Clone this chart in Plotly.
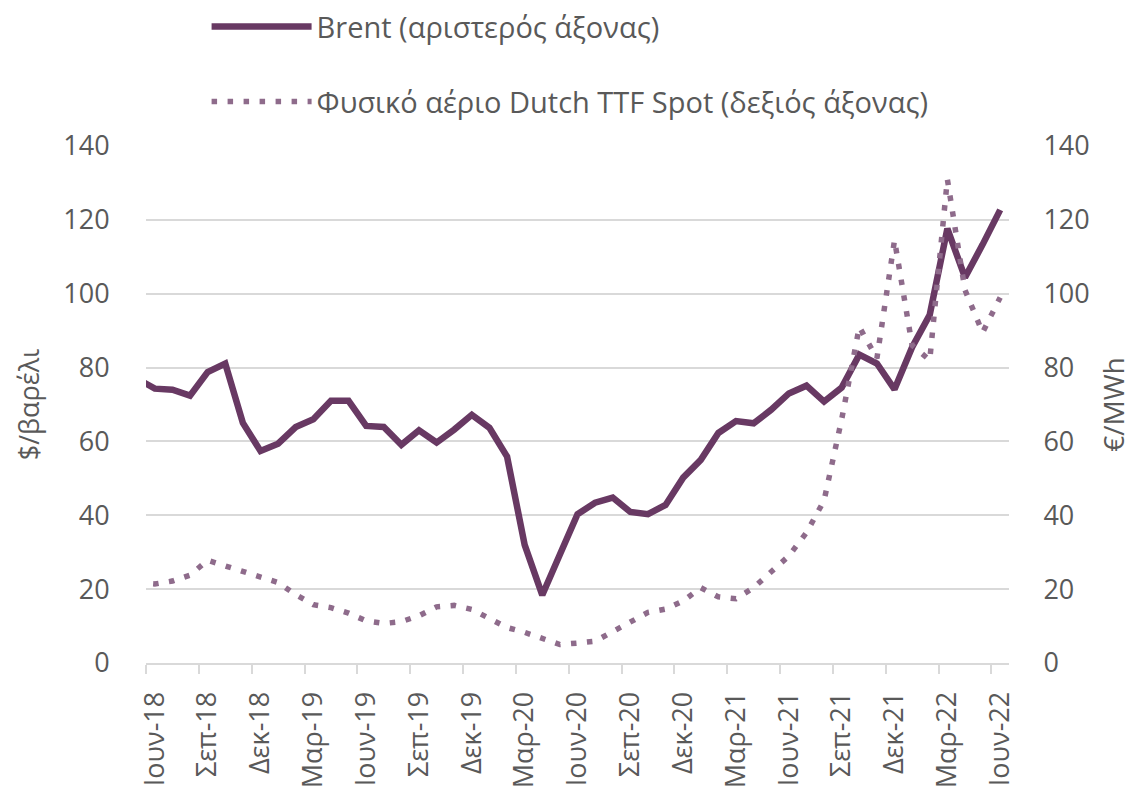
import plotly.graph_objects as go

# ---------------- data ----------------
# monthly observations, May-18 ... Jun-22 (May-18 is only partly visible at the left edge)
months = ["Μαϊ-18", "Ιουν-18", "Ιουλ-18", "Αυγ-18", "Σεπ-18", "Οκτ-18", "Νοε-18", "Δεκ-18",
          "Ιαν-19", "Φεβ-19", "Μαρ-19", "Απρ-19", "Μαϊ-19", "Ιουν-19", "Ιουλ-19", "Αυγ-19",
          "Σεπ-19", "Οκτ-19", "Νοε-19", "Δεκ-19", "Ιαν-20", "Φεβ-20", "Μαρ-20", "Απρ-20",
          "Μαϊ-20", "Ιουν-20", "Ιουλ-20", "Αυγ-20", "Σεπ-20", "Οκτ-20", "Νοε-20", "Δεκ-20",
          "Ιαν-21", "Φεβ-21", "Μαρ-21", "Απρ-21", "Μαϊ-21", "Ιουν-21", "Ιουλ-21", "Αυγ-21",
          "Σεπ-21", "Οκτ-21", "Νοε-21", "Δεκ-21", "Ιαν-22", "Φεβ-22", "Μαρ-22", "Απρ-22",
          "Μαϊ-22", "Ιουν-22"]

brent = [77.0, 74.3, 74.0, 72.4, 78.8, 81.1, 65.0, 57.4,
         59.4, 63.9, 66.0, 71.0, 71.0, 64.2, 63.9, 59.1,
         63.0, 59.7, 63.2, 67.2, 63.7, 55.9, 32.0, 18.4,
         29.4, 40.3, 43.4, 44.8, 40.9, 40.3, 42.8, 50.2,
         55.0, 62.3, 65.5, 64.9, 68.6, 73.0, 75.1, 70.8,
         74.6, 83.5, 81.1, 74.1, 85.5, 94.3, 117.6, 104.4,
         113.3, 122.7]

ttf = [21.8, 21.4, 22.2, 23.8, 27.8, 26.3, 25.0, 23.5,
       21.8, 18.5, 15.8, 15.0, 13.5, 11.4, 10.7, 11.2,
       12.8, 15.2, 15.6, 14.5, 12.0, 9.6, 8.3, 6.6,
       5.0, 5.4, 5.9, 8.5, 11.3, 13.7, 14.6, 16.8,
       20.4, 17.9, 17.4, 20.4, 24.7, 29.0, 35.3, 44.0,
       66.0, 91.0, 82.5, 114.5, 86.0, 82.0, 131.0, 101.0,
       89.5, 99.0]

tick_labels = ["Ιουν-18", "Σεπ-18", "Δεκ-18", "Μαρ-19", "Ιουν-19", "Σεπ-19", "Δεκ-19",
               "Μαρ-20", "Ιουν-20", "Σεπ-20", "Δεκ-20", "Μαρ-21", "Ιουν-21", "Σεπ-21",
               "Δεκ-21", "Μαρ-22", "Ιουν-22"]

y_ticks = [0, 20, 40, 60, 80, 100, 120, 140]

# ---------------- style ----------------
BRENT_COLOR = "#683963"
TTF_COLOR = "#8e6b8b"
GRID = "#d9d9d9"
TXT = "#595959"
FONT = "Open Sans"
FS = 27
CLEAR = "rgba(0,0,0,0)"

x = list(range(len(months)))
tick_pos = [months.index(t) for t in tick_labels]

fig = go.Figure()
fig.add_trace(go.Scatter(
    x=x, y=brent, mode="lines", name="Brent (αριστερός άξονας)",
    line=dict(color=BRENT_COLOR, width=6.5), yaxis="y", legend="legend",
    customdata=months, hovertemplate="%{customdata}: %{y}<extra></extra>"))
fig.add_trace(go.Scatter(
    x=x, y=ttf, mode="lines", name="Φυσικό αέριο Dutch TTF Spot (δεξιός άξονας)",
    line=dict(color=TTF_COLOR, width=5.5, dash="5.5px,10.5px"), yaxis="y2", legend="legend2",
    customdata=months, hovertemplate="%{customdata}: %{y}<extra></extra>"))

# the page body adds an 8px offset, so the figure is 8px smaller than the window
fig.update_layout(
    width=1134, height=785,
    margin=dict(l=138, r=133, t=138, b=130, pad=0, autoexpand=False),
    paper_bgcolor="white", plot_bgcolor="white",
    font=dict(family=FONT, size=FS, color=TXT),
    xaxis=dict(
        type="linear", range=[0.5, len(months) - 0.5], automargin=False,
        tickmode="array", tickvals=tick_pos, ticktext=tick_labels,
        tickangle=-90, ticks="outside", ticklen=16, tickcolor=CLEAR,
        showgrid=False, zeroline=False,
        showline=True, linecolor=GRID, linewidth=2,
        tickfont=dict(family=FONT, size=FS, color=TXT),
        minor=dict(ticks="outside", tickmode="linear", tick0=0.5, dtick=3,
                   ticklen=9, tickwidth=2, tickcolor=GRID, showgrid=False),
    ),
    yaxis=dict(
        range=[0, 140], tickmode="array", tickvals=y_ticks, automargin=False,
        showgrid=True, gridcolor=GRID, gridwidth=2, zeroline=False, showline=False,
        ticks="outside", ticklen=30, tickcolor=CLEAR,
        tickfont=dict(family=FONT, size=FS, color=TXT),
        title=dict(text="$/βαρέλι", font=dict(family=FONT, size=FS, color=TXT)),
    ),
    yaxis2=dict(
        range=[0, 140], tickmode="array", tickvals=y_ticks, overlaying="y", side="right",
        automargin=False,
        showgrid=False, zeroline=False, showline=False,
        ticks="outside", ticklen=28, tickcolor=CLEAR,
        tickfont=dict(family=FONT, size=FS, color=TXT),
        title=dict(text="€/MWh", font=dict(family=FONT, size=FS + 1, color=TXT)),
    ),
    legend=dict(xref="paper", yref="paper", x=0.0702, y=1.2308,
                xanchor="left", yanchor="middle", bgcolor=CLEAR,
                itemwidth=100, font=dict(family=FONT, size=29, color=TXT)),
    legend2=dict(xref="paper", yref="paper", x=0.0702, y=1.0859,
                 xanchor="left", yanchor="middle", bgcolor=CLEAR,
                 itemwidth=100, font=dict(family=FONT, size=29, color=TXT)),
    showlegend=True,
)

fig.write_html("out.html")
